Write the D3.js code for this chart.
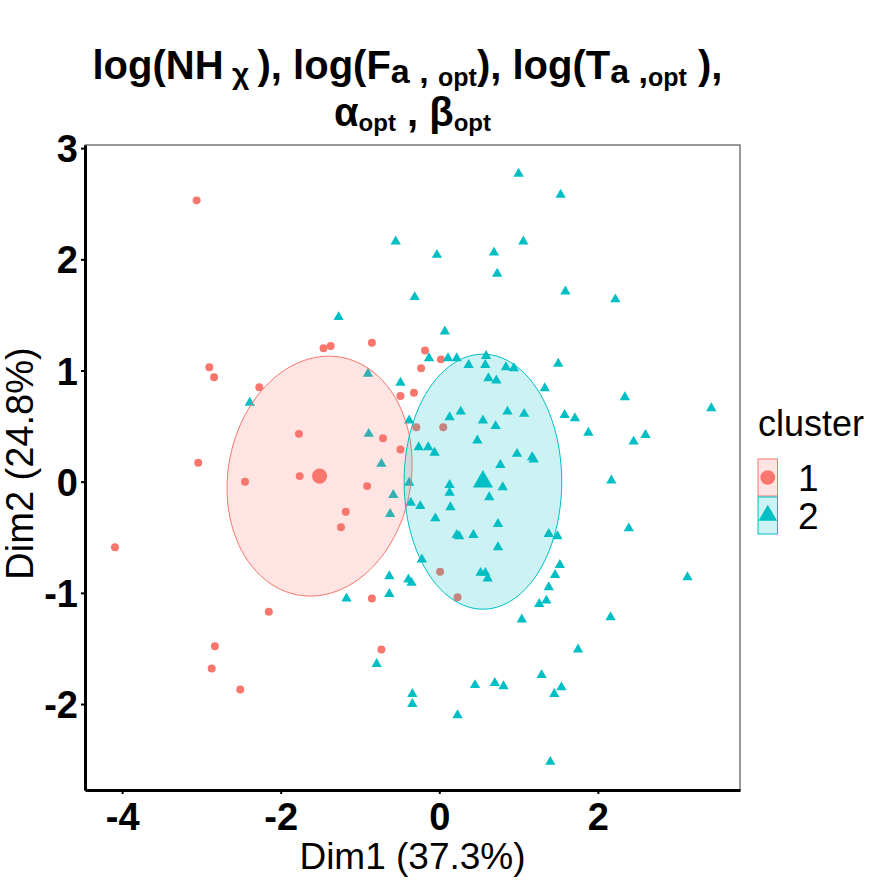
<!DOCTYPE html>
<html>
<head>
<meta charset="utf-8">
<script src="https://cdn.jsdelivr.net/npm/d3@7"></script>
<style>
  body { margin: 0; background: #fff; }
  svg { font-family: 'Liberation Sans', Arial, sans-serif; }
</style>
</head>
<body>
<div id="chart"></div>
<script>
// cluster 1 points (Dim1, Dim2)
const cluster1X = [-3.06, -1.46, -1.37, -0.85, -2.90, -2.84, -2.27, -0.49, -0.32, -0.18, 0.02,
  -0.23, -0.29, 0.05, -0.71, -0.49, -0.91, -1.77, -3.04, -1.76, -2.45, -1.18, -1.24, -4.09,
  -0.85, -2.15, -2.83, -2.87, -2.51, -0.73, 0.01, 0.23];
const cluster1Y = [2.53, 1.20, 1.22, 1.25, 1.03, 0.94, 0.85, 0.77, 0.80, 1.18, 1.10,
  1.02, 0.49, 0.49, 0.39, 0.29, -0.04, 0.43, 0.17, 0.05, 0.00, -0.27, -0.41, -0.59,
  -1.05, -1.17, -1.48, -1.68, -1.87, -1.51, -0.81, -1.04];

// cluster 2 points (Dim1, Dim2)
const cluster2X = [-0.55, -0.31, -1.27, -2.39, -0.90, -0.49, -0.89, -0.73, -0.38, -0.26, -0.38,
  -0.58, -0.36, -0.62, -0.24, -0.63, -0.39, -0.35, -1.17, -0.63, -0.79, -0.34, -0.34,
  0.77, 0.98, 1.17, 1.19, 0.13, 0.13, 0.80, 0.63, 0.14, -0.05, 0.74, 0.22, 0.25, 0.43,
  1.38, 1.49, 2.17, 2.39, 0.74, -0.22, 0.52, 0.58, 0.61, 1.52, 1.46, 3.13, 1.38, 1.35,
  1.26, 1.04, 2.16, 1.75, 1.29, 0.45, 0.70, 0.81, 1.54, 1.45, 0.23, 1.40,
  1.00, 1.53, 1.06, -0.03, 0.69, 0.73, 1.59, 2.22, 0.07, -0.13, 0.11, 0.22, 0.59, 0.37,
  0.58, 0.84, 0.94, 1.50, 0.62, 0.72, 1.33, 2.34, 3.43, 0.13, 0.27, 0.55, 0.86, 1.07,
  0.71, 1.58, 1.71, 1.88, 2.45, 2.60, 0.48, -0.14, -0.06];
const cluster2Y = [2.16, 1.66, 1.48, 0.71, 0.97, 0.89, 0.43, 0.16, 0.55, 0.31, -0.01,
  -0.12, -0.19, -0.29, -0.22, -0.85, -0.88, -0.91, -1.05, -1.01, -1.64, -1.91, -2.00,
  0.15, 0.25, 0.22, 0.20, -0.03, -0.10, -0.05, -0.14, -0.23, -0.33, -0.38, -0.48, -0.49, -0.48,
  -0.47, -0.49, 0.01, -0.42, -0.59, -0.70, -0.82, -0.82, -0.87, -0.75, -0.84, -0.86, -0.95, -1.07,
  -1.10, -1.24, -1.22, -1.51, -1.74, -1.83, -1.81, -1.84, -1.85, -1.91, -2.10, -2.52,
  2.77, 2.58, 2.16, 2.04, 2.06, 1.87, 1.71, 1.64, 1.35, 1.11, 1.11, 1.11, 1.13, 1.05,
  1.05, 1.03, 1.02, 1.06, 0.93, 0.91, 0.84, 0.76, 0.66, 0.58, 0.63, 0.55, 0.63, 0.61,
  0.50, 0.60, 0.57, 0.44, 0.36, 0.42, 0.37, 0.31, 0.26];

// cluster centres and concentration ellipses
const clusterNames = ['1', '2'];
const centerX = [-1.51, 0.55];
const centerY = [0.05, 0.00];
const ellipseRx = [1.167, 0.994];
const ellipseRy = [1.079, 1.147];
const ellipseRho = [0.10, 0.0];

const xTickValues = [-4, -2, 0, 2];
const yTickValues = [-2, -1, 0, 1, 2, 3];
const xDomain = [-4.468, 3.792];
const yDomain = [-2.773, 3.028];

const xLabel = 'Dim1 (37.3%)';
const yLabel = 'Dim2 (24.8%)';
const legendTitle = 'cluster';

class ClusterPlot {
  constructor(_config) {
    this.config = {
      parentElement: _config.parentElement,
      containerWidth: 880,
      containerHeight: 880,
      margin: {
        top: 145, right: 140, bottom: 90, left: 85,
      },
      colors: ['#F8766D', '#00BFC4'],
    };
    this.initVis();
  }

  initVis() {
    const vis = this;

    vis.width = vis.config.containerWidth
      - vis.config.margin.left
      - vis.config.margin.right;
    vis.height = vis.config.containerHeight
      - vis.config.margin.top
      - vis.config.margin.bottom;

    vis.svg = d3
      .select(vis.config.parentElement)
      .append('svg')
      .attr('width', vis.config.containerWidth)
      .attr('height', vis.config.containerHeight);

    vis.chart = vis.svg
      .append('g')
      .attr('transform', `translate(${vis.config.margin.left},${vis.config.margin.top})`);

    vis.xScale = d3.scaleLinear().domain(xDomain).range([0, vis.width]);
    vis.yScale = d3.scaleLinear().domain(yDomain).range([vis.height, 0]);

    vis.data = [
      ...cluster1X.map((x, i) => ({ x, y: cluster1Y[i], c: 0 })),
      ...cluster2X.map((x, i) => ({ x, y: cluster2Y[i], c: 1 })),
    ];
  }

  ellipsePoints(i) {
    const rho = ellipseRho[i];
    return d3.range(0, 101).map((k) => {
      const t = (k / 100) * 2 * Math.PI;
      return [
        centerX[i] + ellipseRx[i] * Math.cos(t),
        centerY[i] + ellipseRy[i] * (rho * Math.cos(t) + Math.sqrt(1 - rho * rho) * Math.sin(t)),
      ];
    });
  }

  renderVis() {
    const vis = this;
    const { colors } = vis.config;
    const symbols = [d3.symbolCircle, d3.symbolTriangle];

    // panel border (top / right in grey)
    vis.chart.append('rect')
      .attr('width', vis.width)
      .attr('height', vis.height)
      .attr('fill', 'none')
      .attr('stroke', '#555')
      .attr('stroke-width', 1.2);

    // points
    vis.chart.append('g')
      .selectAll('path')
      .data(vis.data)
      .join('path')
      .attr('transform', (d) => `translate(${vis.xScale(d.x)},${vis.yScale(d.y)})`)
      .attr('d', (d) => d3.symbol(symbols[d.c], d.c === 0 ? 50 : 46)())
      .attr('fill', (d) => colors[d.c]);

    // ellipses
    const line = d3.line()
      .x((d) => vis.xScale(d[0]))
      .y((d) => vis.yScale(d[1]));

    vis.chart.append('g')
      .selectAll('path')
      .data(clusterNames)
      .join('path')
      .attr('d', (d, i) => `${line(vis.ellipsePoints(i))}Z`)
      .attr('fill', (d, i) => colors[i])
      .attr('fill-opacity', 0.2)
      .attr('stroke', (d, i) => colors[i])
      .attr('stroke-width', 1);

    // cluster centres
    vis.chart.append('g')
      .selectAll('path')
      .data(clusterNames)
      .join('path')
      .attr('transform', (d, i) => `translate(${vis.xScale(centerX[i])},${vis.yScale(centerY[i])})`)
      .attr('d', (d, i) => d3.symbol(symbols[i], i === 0 ? 180 : 175)())
      .attr('fill', (d, i) => colors[i]);

    // axes
    const tickFormat = (d) => String(d);

    const xAxis = vis.chart.append('g')
      .attr('transform', `translate(0,${vis.height})`)
      .call(d3.axisBottom(vis.xScale)
        .tickValues(xTickValues)
        .tickSize(4)
        .tickSizeOuter(0)
        .tickPadding(6)
        .tickFormat(tickFormat));

    const yAxis = vis.chart.append('g')
      .call(d3.axisLeft(vis.yScale)
        .tickValues(yTickValues)
        .tickSize(4)
        .tickSizeOuter(0)
        .tickPadding(3)
        .tickFormat(tickFormat));

    [xAxis, yAxis].forEach((ax) => {
      ax.select('.domain').attr('stroke', '#000').attr('stroke-width', 3);
      ax.selectAll('.tick line').attr('stroke', '#000').attr('stroke-width', 2);
      ax.selectAll('.tick text')
        .attr('fill', '#000')
        .attr('font-size', '38px')
        .attr('font-weight', 'bold')
        .attr('font-family', "'Liberation Sans', Arial, sans-serif");
    });
    yAxis.selectAll('.tick text').attr('dy', '0.36em');
    xAxis.selectAll('.tick text').attr('dy', '0.78em');

    // axis titles
    vis.svg.append('text')
      .attr('x', vis.config.margin.left + vis.width / 2)
      .attr('y', 869)
      .attr('text-anchor', 'middle')
      .attr('font-size', '37px')
      .text(xLabel);

    vis.svg.append('text')
      .attr('transform', `translate(33,${vis.config.margin.top + vis.height / 2 - 4}) rotate(-90)`)
      .attr('text-anchor', 'middle')
      .attr('font-size', '38px')
      .text(yLabel);

    // title (plotmath-like sub/superscripts as tspans)
    const title1 = vis.svg.append('text')
      .attr('x', vis.config.margin.left + vis.width / 2 - 5)
      .attr('y', 79)
      .attr('text-anchor', 'middle')
      .attr('font-size', '40px')
      .attr('font-weight', 'bold');
    const parts1 = [
      ['log(NH', 40, 0], [' \u03C7 ', 30, 5], ['), log(F', 40, -5],
      ['a', 34, 4], [' , ', 34, 0], ['opt', 25, 3], ['), log(T', 40, -7],
      ['a', 34, 4], [' ,', 34, 0], ['opt', 25, 3], [' ),', 40, -7],
    ];
    parts1.forEach(([t, s, dy]) => {
      title1.append('tspan')
        .attr('font-size', `${s}px`)
        .attr('dy', dy)
        .attr('xml:space', 'preserve')
        .text(t);
    });
    title1.style('white-space', 'pre');

    const title2 = vis.svg.append('text')
      .attr('x', vis.config.margin.left + vis.width / 2)
      .attr('y', 126)
      .attr('text-anchor', 'middle')
      .attr('font-size', '40px')
      .attr('font-weight', 'bold');
    const parts2 = [
      ['\u03B1', 40, 0], ['opt', 24, 5], [' , ', 40, -5], ['\u03B2', 40, 0], ['opt', 24, 5],
    ];
    parts2.forEach(([t, s, dy]) => {
      title2.append('tspan').attr('font-size', `${s}px`).attr('dy', dy).text(t);
    });
    title2.style('white-space', 'pre');

    // legend
    const legend = vis.svg.append('g')
      .attr('transform', 'translate(758,0)');

    legend.append('text')
      .attr('x', 0)
      .attr('y', 436)
      .attr('font-size', '36px')
      .text(legendTitle);

    const keys = legend.selectAll('.key')
      .data(clusterNames)
      .join('g')
      .attr('class', 'key')
      .attr('transform', (d, i) => `translate(0,${459 + i * 38})`);

    keys.append('rect')
      .attr('width', 19.5)
      .attr('height', 37)
      .attr('fill', (d, i) => colors[i])
      .attr('fill-opacity', 0.2)
      .attr('stroke', (d, i) => colors[i])
      .attr('stroke-width', 1);

    keys.append('path')
      .attr('transform', 'translate(9.75,18.5)')
      .attr('d', (d, i) => d3.symbol(symbols[i], i === 0 ? 170 : 150)())
      .attr('fill', (d, i) => colors[i]);

    keys.append('text')
      .attr('x', 40)
      .attr('y', 18.5)
      .attr('dy', '0.36em')
      .attr('font-size', '37px')
      .text((d) => d);
  }
}

const plot = new ClusterPlot({ parentElement: '#chart' });
plot.renderVis();
</script>
</body>
</html>
